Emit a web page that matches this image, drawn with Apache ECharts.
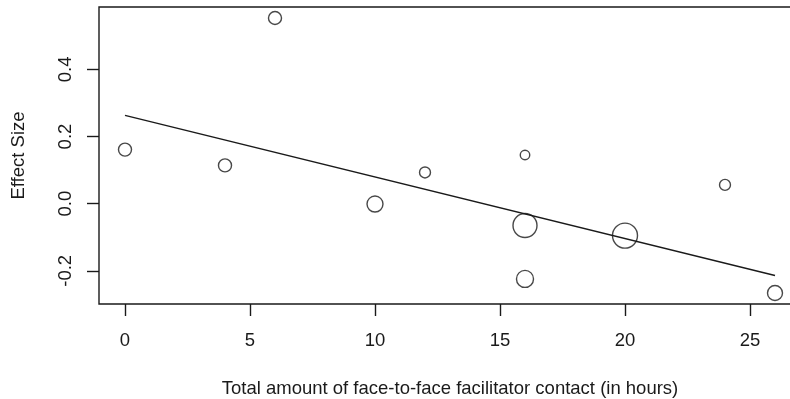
<!DOCTYPE html>
<html>
<head>
<meta charset="utf-8">
<script src="https://cdn.jsdelivr.net/npm/echarts@6/dist/echarts.min.js"></script>
<style>
  html, body { margin: 0; padding: 0; background: #fff; }
  #chart { width: 790px; height: 399px; }
</style>
</head>
<body>
<div id="chart"></div>
<script>
// Contact hours per study and the observed effect sizes
const hours = [0, 4, 6, 10, 12, 16, 16, 16, 20, 24, 26];
const effectSize = [0.161, 0.114, 0.553, -0.001, 0.093, 0.145, -0.065, -0.224, -0.095, 0.056, -0.266];
// Study weights (circle area grows with weight)
const weights = [6.8, 6.8, 6.8, 10.2, 4.8, 3.6, 23, 11.6, 25, 4.8, 9];
// Meta-regression fit, drawn across the observed range
const fitHours = [0, 26];
const fitEffect = [0.263, -0.214];

const xTicks = [0, 5, 10, 15, 20, 25];
const yTicks = [-0.2, 0, 0.2, 0.4];

// R-style 4% padding around the data range
function padded(arr) {
  const lo = Math.min(...arr), hi = Math.max(...arr);
  const d = (hi - lo) * 0.04;
  return [lo - d, hi + d];
}
const xr = padded(hours);
const yr = padded(effectSize);

const ink = '#1a1a1a';
const font = 'Liberation Sans, Arial, sans-serif';
const fs = 18.5;

const chart = echarts.init(document.getElementById('chart'), null, { renderer: 'canvas' });
chart.setOption({
  backgroundColor: '#fff',
  animation: false,
  grid: {
    left: 99, top: 7, width: 702, bottom: 95,
    containLabel: false,
    outerBoundsMode: 'none',
    show: true, borderColor: ink, borderWidth: 1.4, backgroundColor: 'transparent'
  },
  xAxis: {
    type: 'value',
    min: xr[0], max: xr[1],
    name: 'Total amount of face-to-face facilitator contact (in hours)',
    nameLocation: 'middle',
    nameGap: 75,
    nameTextStyle: { fontFamily: font, fontSize: fs, color: ink },
    axisLine: { show: false, onZero: false },
    splitLine: { show: false },
    axisTick: { show: true, length: 12, lineStyle: { color: ink, width: 1.4 }, customValues: xTicks },
    axisLabel: {
      fontFamily: font, fontSize: fs, color: ink, margin: 27,
      customValues: xTicks,
      formatter: v => String(v)
    }
  },
  yAxis: {
    type: 'value',
    min: yr[0], max: yr[1],
    name: 'Effect Size',
    nameLocation: 'middle',
    nameGap: 71,
    nameTextStyle: { fontFamily: font, fontSize: fs, color: ink },
    axisLine: { show: false, onZero: false },
    splitLine: { show: false },
    axisTick: { show: true, length: 12, lineStyle: { color: ink, width: 1.4 }, customValues: yTicks },
    axisLabel: {
      fontFamily: font, fontSize: fs, color: ink, margin: 24, rotate: 90,
      customValues: yTicks,
      formatter: v => v.toFixed(1)
    }
  },
  series: [
    {
      type: 'line',
      data: fitHours.map((x, i) => [x, fitEffect[i]]),
      symbol: 'none',
      lineStyle: { color: ink, width: 1.4 },
      z: 2
    },
    {
      type: 'scatter',
      data: hours.map((x, i) => [x, effectSize[i]]),
      symbol: 'circle',
      symbolSize: (v, p) => 5 * Math.sqrt(weights[p.dataIndex]),
      itemStyle: { color: 'transparent', borderColor: ink, borderWidth: 1.4 },
      z: 3
    }
  ]
});
</script>
</body>
</html>
